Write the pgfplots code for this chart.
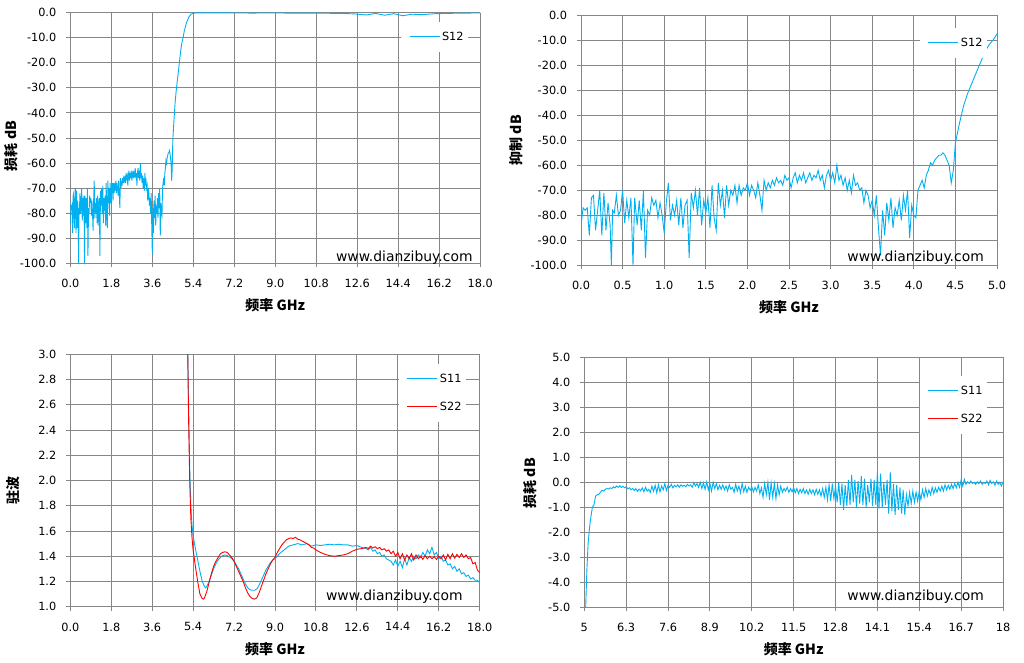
\documentclass[border=0pt]{standalone}
\usepackage{fontspec}
\setmainfont{DejaVu Sans}
\newfontfamily\cjk{Noto Sans CJK SC}
\usepackage{pgfplots}
\usepackage{pgfplotstable}
\pgfplotsset{compat=1.18}
\definecolor{gridgray}{RGB}{134,134,134}
\definecolor{lblue}{RGB}{0,176,240}
\definecolor{lred}{RGB}{255,0,0}
\newcommand{\tickfont}{\fontsize{11.3}{13}\selectfont}
\newcommand{\labfont}{\cjk\bfseries\fontsize{14}{16}\selectfont}
\newcommand{\wmfont}{\fontsize{13.9}{16}\selectfont}

\pgfplotstableread{
x y
0.000 -84
0.025 -77
0.050 -78
0.075 -77
0.100 -88
0.125 -73
0.150 -72
0.175 -86
0.200 -78
0.225 -70
0.250 -88
0.275 -71
0.300 -86
0.325 -75
0.350 -84
0.365 -100
0.380 -78
0.400 -79
0.425 -72
0.450 -80
0.475 -78
0.500 -70
0.525 -83
0.550 -74
0.575 -81
0.600 -73
0.625 -100
0.645 -73
0.675 -84
0.700 -74
0.725 -86
0.750 -70
0.775 -97
0.800 -78
0.825 -80
0.850 -73
0.875 -76
0.900 -74
0.925 -81
0.950 -75
0.975 -80
1.000 -87
1.025 -75
1.050 -67
1.075 -82
1.100 -76
1.125 -80
1.150 -74
1.175 -84
1.200 -73
1.225 -85
1.250 -76
1.275 -74
1.300 -97
1.325 -71
1.350 -77
1.375 -70
1.400 -80
1.425 -69
1.450 -84
1.475 -74
1.500 -79
1.525 -73
1.550 -85
1.575 -68
1.600 -81
1.625 -86
1.650 -67
1.675 -76
1.700 -70
1.725 -81
1.750 -68
1.775 -76
1.800 -70
1.825 -72
1.850 -68
1.875 -75
1.900 -68
1.925 -72
1.950 -69
1.975 -70
2.000 -67
2.025 -72
2.050 -68
2.075 -70
2.100 -73
2.125 -67
2.150 -72
2.175 -78
2.200 -66
2.225 -70
2.250 -67
2.275 -69
2.300 -66
2.325 -68
2.350 -65
2.375 -67
2.400 -66
2.425 -68
2.450 -64
2.475 -66
2.500 -65
2.525 -69
2.550 -65
2.575 -63
2.600 -67
2.625 -64
2.650 -66
2.675 -63
2.700 -67
2.725 -65
2.750 -63
2.775 -66
2.800 -64
2.825 -65
2.850 -62
2.875 -66
2.900 -64
2.925 -69
2.950 -64
2.975 -62
3.000 -66
3.025 -63
3.050 -67
3.075 -60
3.100 -66
3.125 -64
3.150 -68
3.175 -65
3.200 -70
3.225 -66
3.250 -71
3.275 -64
3.300 -68
3.325 -67
3.350 -70
3.375 -69
3.400 -75
3.425 -70
3.450 -72
3.475 -77
3.500 -74
3.525 -80
3.550 -72
3.575 -85
3.600 -96
3.625 -78
3.650 -88
3.675 -75
3.700 -82
3.725 -73
3.750 -85
3.775 -77
3.800 -80
3.825 -74
3.850 -82
3.875 -72
3.900 -78
3.925 -70
3.950 -89
3.975 -76
4.000 -80
4.025 -81
4.050 -70
4.075 -68
4.100 -66
4.125 -69
4.150 -64
4.175 -62
4.200 -59
4.225 -60
4.250 -58
4.275 -57
4.300 -56
4.325 -56
4.350 -55
4.375 -56
4.400 -58
4.425 -60
4.450 -67
4.475 -62
4.500 -51
4.550 -43
4.600 -36
4.650 -31
4.700 -27
4.750 -23
4.800 -19
4.850 -15
4.900 -12
4.950 -10
5.000 -7.5
5.100 -4
5.200 -1.8
5.300 -0.6
5.400 -0.2
5.600 -0.05
6.000 -0.1
7.000 -0.1
8.000 -0.15
9.000 -0.1
10.000 -0.2
11.000 -0.2
12.000 -0.3
12.500 -0.5
13.000 -0.9
13.400 -0.3
13.800 -1.0
14.200 -0.4
14.600 -1.2
15.000 -0.6
15.400 -0.8
16.000 -0.4
17.000 -0.2
18.000 -0.1
}\sxii

\pgfplotstableread{
x y
5.15 3.2
5.20 2.6
5.25 2.1
5.30 1.8
5.35 1.65
5.40 1.56
5.50 1.46
5.60 1.37
5.70 1.28
5.80 1.20
5.90 1.16
5.95 1.15
6.00 1.16
6.10 1.20
6.20 1.25
6.30 1.30
6.40 1.34
6.50 1.37
6.60 1.39
6.70 1.405
6.80 1.41
6.90 1.405
7.00 1.395
7.10 1.38
7.20 1.36
7.30 1.33
7.40 1.30
7.50 1.26
7.60 1.22
7.70 1.18
7.80 1.15
7.90 1.135
8.00 1.13
8.10 1.13
8.20 1.14
8.30 1.17
8.40 1.21
8.50 1.25
8.60 1.29
8.70 1.32
8.80 1.35
8.90 1.37
9.00 1.38
9.20 1.42
9.40 1.45
9.60 1.48
9.80 1.49
10.0 1.50
10.2 1.49
10.4 1.50
10.6 1.48
10.8 1.49
11.0 1.485
11.2 1.49
11.4 1.495
11.6 1.49
11.8 1.495
12.0 1.49
12.2 1.49
12.4 1.48
12.6 1.485
12.8 1.47
13.0 1.46
13.1 1.45
13.2 1.47
13.3 1.44
13.4 1.45
13.5 1.42
13.6 1.43
13.7 1.40
13.8 1.41
13.9 1.38
14.0 1.37
14.1 1.36
14.2 1.33
14.3 1.37
14.4 1.32
14.5 1.36
14.6 1.31
14.7 1.38
14.8 1.33
14.9 1.39
15.0 1.36
15.1 1.40
15.2 1.38
15.3 1.41
15.4 1.39
15.5 1.43
15.6 1.40
15.7 1.45
15.8 1.42
15.9 1.47
16.0 1.41
16.1 1.43
16.2 1.38
16.3 1.40
16.4 1.36
16.5 1.37
16.6 1.33
16.7 1.34
16.8 1.30
16.9 1.32
17.0 1.28
17.1 1.30
17.2 1.26
17.3 1.27
17.4 1.24
17.5 1.25
17.6 1.22
17.7 1.23
17.8 1.21
17.9 1.21
18.0 1.19
}\sxi

\pgfplotstableread{
x y
5.15 3.2
5.20 2.5
5.25 2.0
5.30 1.7
5.35 1.55
5.40 1.45
5.50 1.32
5.60 1.20
5.70 1.10
5.80 1.065
5.85 1.06
5.90 1.07
6.00 1.12
6.10 1.19
6.20 1.26
6.30 1.32
6.40 1.36
6.50 1.39
6.60 1.42
6.70 1.43
6.80 1.435
6.90 1.43
7.00 1.41
7.10 1.39
7.20 1.36
7.30 1.32
7.40 1.28
7.50 1.24
7.60 1.20
7.70 1.15
7.80 1.11
7.90 1.08
8.00 1.065
8.10 1.06
8.20 1.07
8.30 1.11
8.40 1.16
8.50 1.21
8.60 1.26
8.70 1.30
8.80 1.34
8.90 1.37
9.00 1.39
9.10 1.43
9.20 1.46
9.30 1.49
9.40 1.51
9.50 1.53
9.60 1.54
9.70 1.545
9.80 1.54
9.90 1.55
10.0 1.535
10.1 1.53
10.2 1.52
10.3 1.51
10.4 1.50
10.5 1.49
10.6 1.47
10.7 1.465
10.8 1.45
10.9 1.44
11.0 1.43
11.2 1.415
11.4 1.405
11.6 1.40
11.8 1.405
12.0 1.41
12.2 1.42
12.4 1.44
12.6 1.455
12.8 1.46
13.0 1.47
13.1 1.46
13.2 1.48
13.3 1.465
13.4 1.475
13.5 1.46
13.6 1.47
13.7 1.45
13.8 1.46
13.9 1.44
14.0 1.45
14.1 1.42
14.2 1.44
14.3 1.40
14.4 1.43
14.5 1.38
14.6 1.42
14.7 1.37
14.8 1.41
14.9 1.38
15.0 1.42
15.1 1.37
15.2 1.41
15.3 1.38
15.4 1.40
15.5 1.375
15.6 1.405
15.7 1.38
15.8 1.40
15.9 1.38
16.0 1.395
16.1 1.375
16.2 1.40
16.3 1.38
16.4 1.41
16.5 1.37
16.6 1.415
16.7 1.38
16.8 1.42
16.9 1.385
17.0 1.415
17.1 1.39
17.2 1.42
17.3 1.39
17.4 1.41
17.5 1.38
17.6 1.39
17.7 1.34
17.8 1.35
17.9 1.29
18.0 1.27
}\sxxii

\pgfplotstableread{
x y
5.03 -5.5
5.08 -3.5
5.12 -2.4
5.18 -1.6
5.25 -1.0
5.30 -0.9
5.35 -0.55
5.40 -0.5
5.45 -0.48
5.50 -0.4
5.55 -0.32
5.60 -0.35
5.65 -0.28
5.70 -0.25
5.75 -0.27
5.80 -0.22
5.85 -0.25
5.90 -0.18
5.95 -0.22
6.00 -0.15
6.05 -0.2
6.10 -0.14
6.15 -0.21
6.20 -0.16
6.25 -0.22
6.30 -0.18
6.35 -0.26
6.40 -0.22
6.45 -0.3
6.50 -0.24
6.55 -0.33
6.60 -0.25
6.65 -0.36
6.70 -0.27
6.75 -0.34
6.80 -0.22
6.85 -0.38
6.90 -0.2
6.95 -0.35
7.00 -0.28
7.05 -0.4
7.10 -0.15
7.15 -0.36
7.20 -0.12
7.25 -0.42
7.30 -0.1
7.35 -0.38
7.40 -0.15
7.45 -0.3
7.50 -0.05
7.55 -0.33
7.60 -0.12
7.65 -0.2
7.70 -0.08
7.75 -0.22
7.80 -0.12
7.85 -0.18
7.90 -0.1
7.95 -0.2
8.00 -0.1
8.05 -0.16
8.10 -0.12
8.15 -0.18
8.20 -0.08
8.25 -0.15
8.30 -0.1
8.35 -0.2
8.40 -0.02
8.45 -0.15
8.50 -0.05
8.55 -0.2
8.60 0.0
8.65 -0.25
8.70 -0.02
8.75 -0.28
8.80 0.02
8.85 -0.3
8.90 -0.05
8.95 -0.35
9.00 0.0
9.05 -0.25
9.10 -0.05
9.15 -0.3
9.20 -0.12
9.25 -0.28
9.30 -0.1
9.35 -0.3
9.40 -0.15
9.45 -0.35
9.50 -0.1
9.55 -0.28
9.60 -0.2
9.65 -0.4
9.70 -0.08
9.75 -0.35
9.80 -0.15
9.85 -0.42
9.90 -0.05
9.95 -0.38
10.00 -0.15
10.05 -0.4
10.10 -0.2
10.15 -0.32
10.20 -0.18
10.25 -0.38
10.30 -0.2
10.35 -0.35
10.40 -0.1
10.45 -0.45
10.50 -0.22
10.55 -0.6
10.60 -0.05
10.65 -0.5
10.70 0.0
10.75 -0.7
10.80 -0.02
10.85 -0.6
10.90 -0.05
10.95 -0.65
11.00 -0.1
11.05 -0.5
11.10 -0.15
11.15 -0.4
11.20 -0.25
11.25 -0.35
11.30 -0.2
11.35 -0.4
11.40 -0.25
11.45 -0.38
11.50 -0.22
11.55 -0.42
11.60 -0.25
11.65 -0.45
11.70 -0.28
11.75 -0.42
11.80 -0.25
11.85 -0.45
11.90 -0.3
11.95 -0.48
12.00 -0.28
12.05 -0.45
12.10 -0.3
12.15 -0.5
12.20 -0.28
12.25 -0.48
12.30 -0.3
12.35 -0.55
12.40 -0.25
12.45 -0.6
12.50 -0.2
12.55 -0.7
12.60 -0.1
12.65 -0.75
12.70 -0.05
12.75 -0.65
12.80 -0.15
12.85 -0.8
12.90 0.0
12.95 -0.9
13.00 -0.05
13.05 -1.1
13.10 -0.1
13.15 -0.95
13.20 0.1
13.25 -0.9
13.30 0.3
13.35 -0.8
13.40 0.1
13.45 -1.0
13.50 0.05
13.55 -0.85
13.60 0.25
13.65 -0.9
13.70 0.15
13.75 -1.0
13.80 -0.1
13.85 -0.8
13.90 0.15
13.95 -0.95
14.00 0.1
14.05 -0.9
14.10 0.4
14.15 -1.05
14.20 0.35
14.25 -1.0
14.30 0.0
14.35 -0.9
14.40 0.1
14.45 -1.25
14.50 0.4
14.55 -1.15
14.60 -0.05
14.65 -1.3
14.70 -0.1
14.75 -1.1
14.80 -0.2
14.85 -1.25
14.90 -0.3
14.95 -1.3
15.00 -0.5
15.05 -0.95
15.10 -0.4
15.15 -0.85
15.20 -0.35
15.25 -0.8
15.30 -0.4
15.35 -0.75
15.40 -0.35
15.45 -0.7
15.50 -0.3
15.55 -0.6
15.60 -0.25
15.65 -0.55
15.70 -0.3
15.75 -0.5
15.80 -0.2
15.85 -0.45
15.90 -0.22
15.95 -0.4
16.00 -0.2
16.05 -0.35
16.10 -0.15
16.15 -0.35
16.20 -0.1
16.25 -0.3
16.30 -0.12
16.35 -0.28
16.40 -0.08
16.45 -0.25
16.50 -0.05
16.55 -0.22
16.60 0.0
16.65 -0.2
16.70 0.1
16.75 -0.15
16.80 0.12
16.85 -0.08
16.90 0.02
16.95 -0.05
17.00 0.05
17.05 -0.05
17.10 0.0
17.15 -0.08
17.20 0.02
17.25 -0.05
17.30 0.05
17.35 -0.08
17.40 0.0
17.45 -0.05
17.50 0.05
17.55 -0.1
17.60 0.08
17.65 -0.05
17.70 0.02
17.75 -0.12
17.80 0.05
17.85 -0.08
17.90 0.0
17.95 -0.15
18.00 0.02
}\ilbr

\pgfplotsset{
  base/.style={
    scale only axis,
    axis lines=left,
    axis line style={-, draw=gridgray, line width=0.9pt},
    grid=major,
    major grid style={draw=gridgray, line width=0.9pt},
    tick align=outside,
    major tick length=4pt,
    tick style={draw=gridgray, line width=0.9pt},
    minor tick num=0,
    tick label style={font=\tickfont, text=black},
    xticklabel style={yshift=-8.5pt},
    yticklabel style={xshift=-6.5pt},
    legend cell align=left,
    legend style={draw=none, fill=white, font=\tickfont, inner xsep=2pt, inner ysep=8pt, row sep=14pt, at={(1,1)}, anchor=north east},
    legend image code/.code={\path (-6pt,0pt); \draw[##1] (0pt,0pt) -- (30pt,0pt);},
    every axis x label/.style={at={([yshift=-42pt]axis description cs:0.5,0)}, anchor=center, font=\labfont},
    every axis y label/.style={rotate=90, anchor=center, font=\labfont},
    xlabel={频率 GHz},
    every axis plot/.append style={line width=0.9pt, mark=none},
  }
}

\begin{document}
\begin{tikzpicture}
\useasboundingbox (0,0) rectangle (1024pt,662pt);

% top-left
\begin{axis}[base, at={(70.3pt,398.7pt)}, anchor=south west, width=410pt, height=250.6pt,
  xmin=0, xmax=18, ymin=-100, ymax=0,
  xtick={0,1.8,3.6,5.4,7.2,9,10.8,12.6,14.4,16.2,18},
  xticklabels={0.0,1.8,3.6,5.4,7.2,9.0,10.8,12.6,14.4,16.2,18.0},
  ytick={-100,-90,-80,-70,-60,-50,-40,-30,-20,-10,0},
  yticklabels={-100.0,-90.0,-80.0,-70.0,-60.0,-50.0,-40.0,-30.0,-20.0,-10.0,0.0},
  ylabel={损耗 dB},
  ylabel style={at={([xshift=-58.6pt]axis description cs:0,0.468)}},
  legend style={xshift=-12.5pt, yshift=-8.8pt}]
\addplot[lblue, forget plot] table[x=x,y=y] {\sxii};
\addlegendimage{draw=lblue, line width=1pt}
\addlegendentry{S12}
\end{axis}

% top-right
\begin{axis}[base, at={(581pt,396.7pt)}, anchor=south west, width=416pt, height=250pt,
  xmin=0, xmax=5, ymin=-100, ymax=0,
  xtick={0,0.5,1,1.5,2,2.5,3,3.5,4,4.5,5},
  xticklabels={0.0,0.5,1.0,1.5,2.0,2.5,3.0,3.5,4.0,4.5,5.0},
  ytick={-100,-90,-80,-70,-60,-50,-40,-30,-20,-10,0},
  yticklabels={-100.0,-90.0,-80.0,-70.0,-60.0,-50.0,-40.0,-30.0,-20.0,-10.0,0.0},
  ylabel={抑制 dB},
  ylabel style={at={([xshift=-65pt]axis description cs:0,0.5)}},
  legend style={xshift=-10.3pt, yshift=-12.5pt}]
\addplot[lblue, forget plot, restrict x to domain=0:5.1] table[x=x,y=y] {\sxii};
\addlegendimage{draw=lblue, line width=1pt}
\addlegendentry{S12}
\end{axis}

% bottom-left
\begin{axis}[base, at={(70.3pt,55.3pt)}, anchor=south west, width=409.4pt, height=252.4pt,
  xmin=0, xmax=18, ymin=1, ymax=3,
  xtick={0,1.8,3.6,5.4,7.2,9,10.8,12.6,14.4,16.2,18},
  xticklabels={0.0,1.8,3.6,5.4,7.2,9.0,10.8,12.6,14.4,16.2,18.0},
  ytick={1,1.2,1.4,1.6,1.8,2,2.2,2.4,2.6,2.8,3},
  yticklabels={1.0,1.2,1.4,1.6,1.8,2.0,2.2,2.4,2.6,2.8,3.0},
  ylabel={驻波},
  ylabel style={at={([xshift=-57.6pt]axis description cs:0,0.462)}},
  legend style={xshift=-14pt, yshift=-9.5pt}]
\addplot[lblue, forget plot] table[x=x,y=y] {\sxi};
\addplot[lred, forget plot] table[x=x,y=y] {\sxxii};
\addlegendimage{draw=lblue, line width=1pt}
\addlegendentry{S11}
\addlegendimage{draw=lred, line width=1pt}
\addlegendentry{S22}
\end{axis}

% bottom-right
\begin{axis}[base, at={(584.3pt,54.7pt)}, anchor=south west, width=418.7pt, height=250pt,
  xmin=5, xmax=18, ymin=-5, ymax=5,
  xtick={5,6.3,7.6,8.9,10.2,11.5,12.8,14.1,15.4,16.7,18},
  xticklabels={5,6.3,7.6,8.9,10.2,11.5,12.8,14.1,15.4,16.7,18},
  ytick={-5,-4,-3,-2,-1,0,1,2,3,4,5},
  yticklabels={-5.0,-4.0,-3.0,-2.0,-1.0,0.0,1.0,2.0,3.0,4.0,5.0},
  ylabel={损耗 dB},
  ylabel style={at={([xshift=-54.3pt]axis description cs:0,0.496)}},
  legend style={xshift=-16.3pt, yshift=-18.5pt}]
\addplot[lblue, forget plot] table[x=x,y=y] {\ilbr};
\addlegendimage{draw=lblue, line width=1pt}
\addlegendentry{S11}
\addlegendimage{draw=lred, line width=1pt}
\addlegendentry{S22}
\end{axis}

\node[anchor=base east, inner sep=0pt, font=\wmfont] at (472.7pt,400.3pt) {www.dianzibuy.com};
\node[anchor=base east, inner sep=0pt, font=\wmfont] at (984pt,400.3pt) {www.dianzibuy.com};
\node[anchor=base east, inner sep=0pt, font=\wmfont] at (462.7pt,62pt) {www.dianzibuy.com};
\node[anchor=base east, inner sep=0pt, font=\wmfont] at (984pt,62pt) {www.dianzibuy.com};
\end{tikzpicture}
\end{document}
